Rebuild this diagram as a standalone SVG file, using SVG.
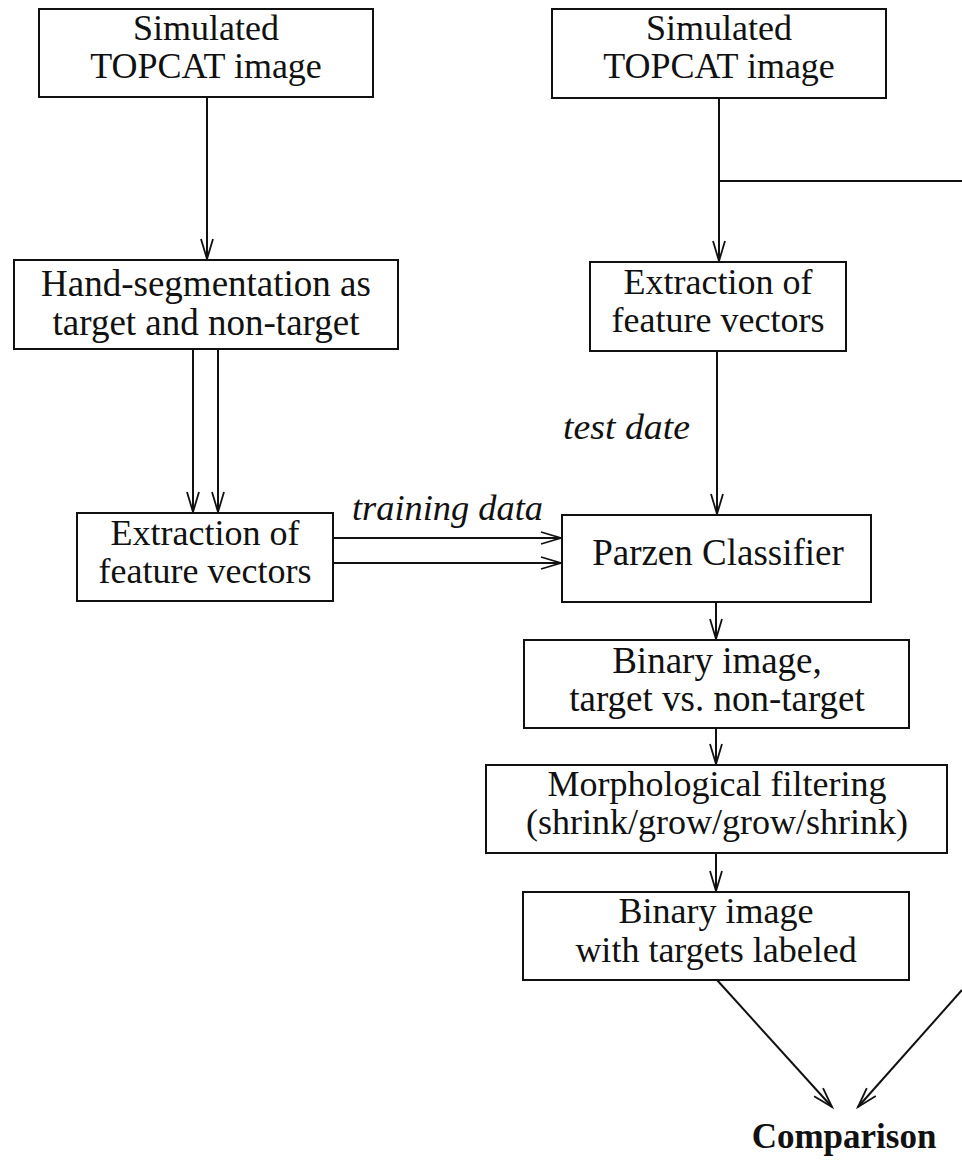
<svg xmlns="http://www.w3.org/2000/svg" width="962" height="1160" viewBox="0 0 962 1160">
<style>
  .box { fill: #fff; stroke: #111; stroke-width: 2; }
  .t { font-family: "Liberation Serif", "Times New Roman", serif; font-size: 36px; fill: #111; text-anchor: middle; }
  .it { font-family: "Liberation Serif", "Times New Roman", serif; font-size: 36px; font-style: italic; fill: #111; }
  .b { font-family: "Liberation Serif", "Times New Roman", serif; font-size: 35px; font-weight: bold; fill: #111; text-anchor: middle; }
  .c { fill: none; stroke: #111; stroke-width: 2; }
  .ca { fill: none; stroke: #111; stroke-width: 2; marker-end: url(#ah); }
</style>
<defs>
  <marker id="ah" markerUnits="userSpaceOnUse" markerWidth="26" markerHeight="18" viewBox="-23 -9 26 18" refX="0" refY="0" orient="auto">
    <path d="M-20,-6 L0,0 L-20,6" fill="none" stroke="#111" stroke-width="1.8"/>
  </marker>
</defs>
<rect width="962" height="1160" fill="#fff"/>

<g id="connectors">
  <line class="ca" x1="207" y1="97" x2="207" y2="259"/>
  <line class="ca" x1="719" y1="98" x2="719" y2="261"/>
  <line class="c" x1="719" y1="181" x2="962" y2="181"/>
  <line class="ca" x1="193" y1="349" x2="193" y2="512"/>
  <line class="ca" x1="218" y1="349" x2="218" y2="512"/>
  <line class="ca" x1="717" y1="351" x2="717" y2="514"/>
  <line class="ca" x1="333" y1="538" x2="561" y2="538"/>
  <line class="ca" x1="333" y1="563" x2="561" y2="563"/>
  <line class="ca" x1="716" y1="602" x2="716" y2="639"/>
  <line class="ca" x1="716" y1="728" x2="716" y2="764"/>
  <line class="ca" x1="716" y1="853" x2="716" y2="891"/>
  <line class="ca" x1="717" y1="980" x2="832" y2="1107"/>
  <line class="ca" x1="962" y1="990" x2="858" y2="1107"/>
  <text class="it" x="563" y="439" textLength="127" lengthAdjust="spacingAndGlyphs">test date</text>
  <text class="it" x="352" y="520" textLength="191" lengthAdjust="spacingAndGlyphs">training data</text>
</g>

<g id="sim-left">
  <rect class="box" x="39" y="9" width="334" height="88"/>
  <text class="t" x="206" y="40">Simulated</text>
  <text class="t" x="206" y="78">TOPCAT image</text>
</g>

<g id="sim-right">
  <rect class="box" x="552" y="9" width="334" height="89"/>
  <text class="t" x="719" y="40">Simulated</text>
  <text class="t" x="719" y="78">TOPCAT image</text>
</g>

<g id="hand-seg">
  <rect class="box" x="14" y="260" width="384" height="89"/>
  <text class="t" x="206" y="296" style="font-size:37px">Hand-segmentation as</text>
  <text class="t" x="206" y="335" style="font-size:37px">target and non-target</text>
</g>

<g id="extract-right">
  <rect class="box" x="590" y="262" width="256" height="89"/>
  <text class="t" x="718" y="294">Extraction of</text>
  <text class="t" x="718" y="332">feature vectors</text>
</g>

<g id="extract-left">
  <rect class="box" x="77" y="513" width="256" height="88"/>
  <text class="t" x="205" y="545">Extraction of</text>
  <text class="t" x="205" y="583">feature vectors</text>
</g>

<g id="parzen">
  <rect class="box" x="562" y="515" width="309" height="87"/>
  <text class="t" x="718" y="565" style="font-size:37px">Parzen Classifier</text>
</g>

<g id="binary">
  <rect class="box" x="524" y="640" width="385" height="88"/>
  <text class="t" x="717" y="673" style="font-size:37px">Binary image,</text>
  <text class="t" x="717" y="711" style="font-size:37px">target vs. non-target</text>
</g>

<g id="morph">
  <rect class="box" x="486" y="765" width="461" height="88"/>
  <text class="t" x="717" y="796">Morphological filtering</text>
  <text class="t" x="717" y="834">(shrink/grow/grow/shrink)</text>
</g>

<g id="labeled">
  <rect class="box" x="523" y="892" width="386" height="88"/>
  <text class="t" x="716" y="923">Binary image</text>
  <text class="t" x="716" y="962">with targets labeled</text>
</g>

<g id="comparison">
  <text class="b" x="844" y="1148">Comparison</text>
</g>
</svg>
